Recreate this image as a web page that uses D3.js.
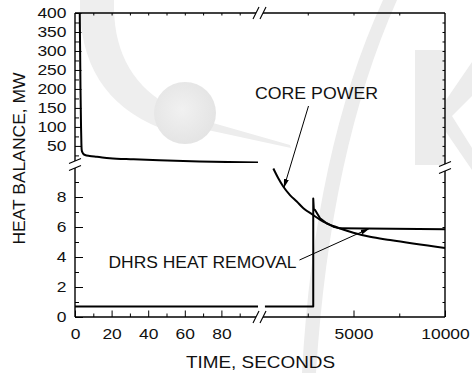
<!DOCTYPE html>
<html>
<head>
<meta charset="utf-8">
<script src="https://cdn.jsdelivr.net/npm/d3@7"></script>
<style>
  html, body { margin: 0; padding: 0; background: #fff; }
  svg { display: block; font-family: "Liberation Sans", Arial, Helvetica, sans-serif; }
</style>
</head>
<body>
<svg id="chart" width="472" height="373"></svg>
<script>
// ---- data -------------------------------------------------------------
// Early window, 0-100 s: core power in MW (upper y range)
const earlyTime = [2.6, 3.0, 3.3, 3.5, 3.7, 4.3, 5.5, 8, 12, 19, 32, 46, 68, 100];
const earlyCorePower = [400, 200, 100, 55, 38, 31, 26, 23.5, 21.5, 17.5, 14.7, 12, 9, 6];
// Early window: DHRS heat removal in MW (lower y range)
const earlyDhrsTime = [0, 100];
const earlyDhrs = [0.7, 0.7];
// Late window, up to 10000 s
const lateTime = [620, 890, 1160, 1530, 1900, 2260, 2800, 3350, 4080, 4990, 5900, 7000, 10000];
const lateCorePower = [9.9, 9.25, 8.7, 8.13, 7.7, 7.25, 6.8, 6.35, 5.98, 5.62, 5.35, 5.13, 4.6];
const lateDhrsTime = [160, 2800, 2800, 2830, 2900, 3170, 3535, 3900, 4260, 10000];
const lateDhrs = [0.7, 0.7, 7.9, 7.2, 7.13, 6.58, 6.25, 6.02, 5.91, 5.85];

// ticks
const earlyTicks = [0, 20, 40, 60, 80];
const earlyMinorTicks = [10, 30, 50, 70, 90];
const lateTicks = [5000, 10000];
const lateMinorTicks = [2500, 7500];
const upperTicks = [50, 100, 150, 200, 250, 300, 350, 400];
const upperMinorTicks = [25, 75, 125, 175, 225, 275, 325, 375];
const lowerTicks = [0, 2, 4, 6, 8];
const lowerMinorTicks = [1, 3, 5, 7, 9];

// labels
const xTitle = "TIME, SECONDS";
const yTitle = "HEAT BALANCE, MW";
const coreLabel = "CORE POWER";
const dhrsLabel = "DHRS HEAT REMOVAL";
const coreArrowTime = 1200;
const dhrsArrowTime = 5850;

// ---- layout -----------------------------------------------------------
const L = 75, R = 445, T = 13, B = 317;
const xBreak = 259.5, yBreakLeft = 164.5, yBreakRight = 167.5;

const xEarly = d3.scaleLinear([0, 100], [L, 258]);
const xLate = d3.scaleLinear([0, 10000], [262, R]);
const yUpper = d3.scaleLinear([5, 400], [163, T]);
const yLower = d3.scaleLinear([0, 10], [B, 167]);
const fmt = d3.format("d");

const svg = d3.select("#chart");
const defs = svg.append("defs");

// ---- faint background emblem ------------------------------------------
const grad = defs.append("radialGradient").attr("id", "ball")
  .attr("cx", "45%").attr("cy", "45%").attr("r", "60%");
grad.append("stop").attr("offset", "0%").attr("stop-color", "#f1f1f1");
grad.append("stop").attr("offset", "100%").attr("stop-color", "#e3e3e3");

const bg = svg.append("g").attr("class", "emblem");
bg.append("path")
  .attr("d", "M80,0 Q78,95 160,128 L166,104 Q112,72 114,0 Z")
  .attr("fill", "#eeeeee");
bg.append("path")
  .attr("d", "M206,121 L290,145 L291,148 L203,129 Z")
  .attr("fill", "#ededed");
bg.append("circle").attr("cx", 185).attr("cy", 113).attr("r", 31)
  .attr("fill", "url(#ball)");
bg.append("path")
  .attr("d", "M383,0 L397,0 Q330,150 316,373 L302,373 Q314,150 383,0 Z")
  .attr("fill", "#ececec");
bg.append("path")
  .attr("d", "M415,50 L446,50 L446,100 L472,62 L472,96 L452,116 L472,148 L472,170 L446,132 L446,165 L415,165 Z")
  .attr("fill", "#ececec");

// ---- clip regions -----------------------------------------------------
defs.append("clipPath").attr("id", "clipUpper")
  .append("rect").attr("x", L).attr("y", T).attr("width", 258 - L).attr("height", 163 - T);
defs.append("clipPath").attr("id", "clipLowerEarly")
  .append("rect").attr("x", L).attr("y", 167).attr("width", 258 - L).attr("height", B - 167);
defs.append("clipPath").attr("id", "clipLowerLate")
  .append("rect").attr("x", 262).attr("y", 160).attr("width", R - 262).attr("height", B - 160);

// ---- axes (ticks point inward) ----------------------------------------
function styleAxis(g, withLabels) {
  g.select(".domain").remove();
  g.attr("font-family", null).attr("font-size", null);
  g.selectAll("line").attr("stroke", "#000").attr("stroke-width", 1);
  if (withLabels) {
    g.selectAll("text")
      .attr("fill", "#111")
      .attr("font-size", 15)
      .attr("textLength", d => fmt(d).length * 9.7)
      .attr("lengthAdjust", "spacingAndGlyphs");
  } else {
    g.selectAll("text").remove();
  }
}

// bottom
svg.append("g").attr("transform", `translate(0,${B})`)
  .call(d3.axisBottom(xEarly).tickValues(earlyTicks).tickFormat(fmt).tickSize(-6.5).tickPadding(11))
  .call(g => styleAxis(g, true));
svg.append("g").attr("transform", `translate(0,${B})`)
  .call(d3.axisBottom(xEarly).tickValues(earlyMinorTicks).tickSize(-3.5))
  .call(g => styleAxis(g, false));
svg.append("g").attr("transform", `translate(0,${B})`)
  .call(d3.axisBottom(xLate).tickValues(lateTicks).tickFormat(fmt).tickSize(-6.5).tickPadding(11))
  .call(g => styleAxis(g, true));
svg.append("g").attr("transform", `translate(0,${B})`)
  .call(d3.axisBottom(xLate).tickValues(lateMinorTicks).tickSize(-3.5))
  .call(g => styleAxis(g, false));

// top
svg.append("g").attr("transform", `translate(0,${T})`)
  .call(d3.axisTop(xEarly).tickValues(earlyTicks.concat(earlyMinorTicks).filter(v => v > 0)).tickSize(-2.5))
  .call(g => styleAxis(g, false));
svg.append("g").attr("transform", `translate(0,${T})`)
  .call(d3.axisTop(xLate).tickValues(lateTicks.concat(lateMinorTicks).filter(v => v < 10000)).tickSize(-2.5))
  .call(g => styleAxis(g, false));

// left
svg.append("g").attr("transform", `translate(${L},0)`)
  .call(d3.axisLeft(yUpper).tickValues(upperTicks).tickFormat(fmt).tickSize(-6.5).tickPadding(8.5))
  .call(g => styleAxis(g, true));
svg.append("g").attr("transform", `translate(${L},0)`)
  .call(d3.axisLeft(yUpper).tickValues(upperMinorTicks).tickSize(-4))
  .call(g => styleAxis(g, false));
svg.append("g").attr("transform", `translate(${L},0)`)
  .call(d3.axisLeft(yLower).tickValues(lowerTicks).tickFormat(fmt).tickSize(-8).tickPadding(8.5))
  .call(g => styleAxis(g, true));
svg.append("g").attr("transform", `translate(${L},0)`)
  .call(d3.axisLeft(yLower).tickValues(lowerMinorTicks).tickSize(-4))
  .call(g => styleAxis(g, false));

// right
svg.append("g").attr("transform", `translate(${R},0)`)
  .call(d3.axisRight(yUpper).tickValues(upperTicks.concat(upperMinorTicks).filter(v => v < 400)).tickSize(-2.5))
  .call(g => styleAxis(g, false));
svg.append("g").attr("transform", `translate(${R},0)`)
  .call(d3.axisRight(yLower).tickValues(lowerTicks.concat(lowerMinorTicks).filter(v => v > 0)).tickSize(-2.5))
  .call(g => styleAxis(g, false));

// ---- frame with axis breaks -------------------------------------------
const frame = svg.append("g").attr("stroke", "#000").attr("stroke-width", 1.4).attr("fill", "none");
const seg = (x1, y1, x2, y2) => frame.append("line")
  .attr("x1", x1).attr("y1", y1).attr("x2", x2).attr("y2", y2);
seg(L, T, xBreak - 3.5, T); seg(xBreak + 3.5, T, R, T);
seg(L, B, xBreak - 3.5, B); seg(xBreak + 3.5, B, R, B);
seg(L, T, L, yBreakLeft - 3.5); seg(L, yBreakLeft + 3.5, L, B);
seg(R, T, R, yBreakRight - 3.5); seg(R, yBreakRight + 3.5, R, B);

const brk = svg.append("g").attr("stroke", "#000").attr("stroke-width", 1.1);
function xBreakMark(cx, cy) {
  [-3.5, 3.5].forEach(d => brk.append("line")
    .attr("x1", cx + d - 3).attr("y1", cy + 6).attr("x2", cx + d + 3).attr("y2", cy - 6));
}
function yBreakMark(cx, cy) {
  [-3.5, 3.5].forEach(d => brk.append("line")
    .attr("x1", cx - 6).attr("y1", cy + d + 2.5).attr("x2", cx + 6).attr("y2", cy + d - 2.5));
}
xBreakMark(xBreak, T);
xBreakMark(xBreak, B);
yBreakMark(L, yBreakLeft);
yBreakMark(R, yBreakRight);

// ---- series -----------------------------------------------------------
const plot = svg.append("g").attr("fill", "none").attr("stroke", "#000");

const zip = (xs, ys) => xs.map((x, i) => [x, ys[i]]);

plot.append("path")
  .attr("clip-path", "url(#clipUpper)")
  .attr("stroke-width", 2)
  .attr("d", d3.line().x(d => xEarly(d[0])).y(d => yUpper(d[1])).curve(d3.curveMonotoneX)(zip(earlyTime, earlyCorePower)));

plot.append("path")
  .attr("clip-path", "url(#clipLowerEarly)")
  .attr("stroke-width", 2)
  .attr("d", d3.line().x(d => xEarly(d[0])).y(d => yLower(d[1]))(zip(earlyDhrsTime, earlyDhrs)));

plot.append("path")
  .attr("clip-path", "url(#clipLowerLate)")
  .attr("stroke-width", 2)
  .attr("d", d3.line().x(d => xLate(d[0])).y(d => yLower(d[1])).curve(d3.curveMonotoneX)(zip(lateTime, lateCorePower)));

plot.append("path")
  .attr("clip-path", "url(#clipLowerLate)")
  .attr("stroke-width", 2)
  .attr("stroke-linejoin", "round")
  .attr("d", d3.line().x(d => xLate(d[0])).y(d => yLower(d[1]))(zip(lateDhrsTime, lateDhrs)));

// ---- annotations ------------------------------------------------------
function valueAt(xs, ys, t) {
  const i = Math.max(1, Math.min(xs.length - 1, d3.bisectLeft(xs, t)));
  const f = (t - xs[i - 1]) / (xs[i] - xs[i - 1]);
  return ys[i - 1] + f * (ys[i] - ys[i - 1]);
}

defs.append("marker").attr("id", "head")
  .attr("markerUnits", "userSpaceOnUse")
  .attr("markerWidth", 9).attr("markerHeight", 5)
  .attr("refX", 8.5).attr("refY", 2.5)
  .attr("orient", "auto")
  .append("path").attr("d", "M0,0 L9,2.5 L0,5 Z").attr("fill", "#000");

const ann = svg.append("g");
ann.append("line")
  .attr("x1", 308.5).attr("y1", 106)
  .attr("x2", xLate(coreArrowTime)).attr("y2", yLower(valueAt(lateTime, lateCorePower, coreArrowTime)))
  .attr("stroke", "#000").attr("stroke-width", 1).attr("marker-end", "url(#head)");
ann.append("line")
  .attr("x1", 299.5).attr("y1", 260)
  .attr("x2", xLate(dhrsArrowTime)).attr("y2", yLower(valueAt(lateDhrsTime.slice(3), lateDhrs.slice(3), dhrsArrowTime)))
  .attr("stroke", "#000").attr("stroke-width", 1).attr("marker-end", "url(#head)");

ann.append("text").attr("x", 255).attr("y", 99)
  .attr("font-size", 16.5).attr("fill", "#111")
  .attr("textLength", 123).attr("lengthAdjust", "spacingAndGlyphs")
  .text(coreLabel);
ann.append("text").attr("x", 108.5).attr("y", 268)
  .attr("font-size", 16.5).attr("fill", "#111")
  .attr("textLength", 188).attr("lengthAdjust", "spacingAndGlyphs")
  .text(dhrsLabel);

// ---- axis titles ------------------------------------------------------
svg.append("text")
  .attr("x", 260.5).attr("y", 367.5)
  .attr("text-anchor", "middle")
  .attr("font-size", 17).attr("fill", "#111")
  .attr("textLength", 149).attr("lengthAdjust", "spacingAndGlyphs")
  .text(xTitle);
svg.append("text")
  .attr("transform", "translate(25,158.5) rotate(-90)")
  .attr("text-anchor", "middle")
  .attr("font-size", 17).attr("fill", "#111")
  .attr("textLength", 172).attr("lengthAdjust", "spacingAndGlyphs")
  .text(yTitle);
</script>
</body>
</html>
